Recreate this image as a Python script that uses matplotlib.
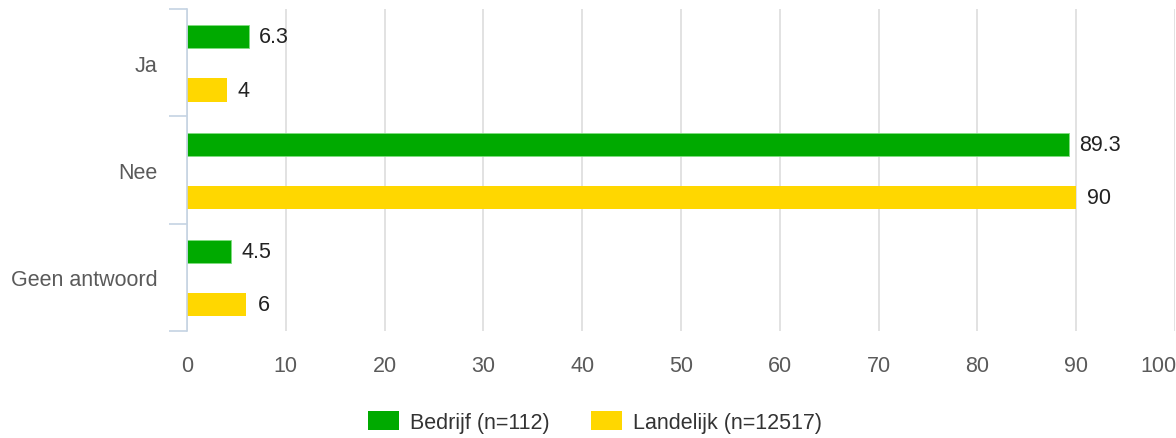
import numpy as np
import matplotlib.pyplot as plt
import matplotlib.transforms as mtransforms
from matplotlib.patches import Patch

categories = ["Ja", "Nee", "Geen antwoord"]
bedrijf = [6.3, 89.3, 4.5]
landelijk = [4, 90, 6]
bedrijf_labels = ["6.3", "89.3", "4.5"]
landelijk_labels = ["4", "90", "6"]
series_names = ["Bedrijf (n=112)", "Landelijk (n=12517)"]
xticks = [0, 10, 20, 30, 40, 50, 60, 70, 80, 90, 100]

green = "#00AA00"
yellow = "#FFD700"
fs = 15.5

plt.rcParams['font.family'] = ['Liberation Sans', 'DejaVu Sans']

fig = plt.figure(figsize=(11.76, 4.39), dpi=100)
ax = fig.add_axes([187 / 1176, 107 / 439, 988 / 1176, 322 / 439])

y = np.arange(len(categories))
h = 0.215
ax.barh(y - 0.24, bedrijf, height=h, color=green, edgecolor="#7fdd7f", linewidth=0.6, zorder=3)
ax.barh(y + 0.255, landelijk, height=h, color=yellow, zorder=3)

for yi, v, lab in zip(y, bedrijf, bedrijf_labels):
    ax.annotate(lab, (v, yi - 0.24), xytext=(7, 0), textcoords="offset points",
                va="center", ha="left", fontsize=fs, color="#222222")
for yi, v, lab in zip(y, landelijk, landelijk_labels):
    ax.annotate(lab, (v, yi + 0.255), xytext=(8, 0), textcoords="offset points",
                va="center", ha="left", fontsize=fs, color="#222222")

ax.set_xlim(0, 100)
ax.set_ylim(2.5, -0.5)
ax.set_xticks(xticks)
ax.set_xticklabels([str(t) for t in xticks], fontsize=fs, color="#5a5a5a")
ax.tick_params(axis="x", length=0, pad=17)
# last label pulled inward so it stays inside the figure
last = ax.get_xticklabels()[-1]
last.set_transform(last.get_transform() + mtransforms.ScaledTranslation(-0.17, 0, fig.dpi_scale_trans))

ax.set_yticks(y)
ax.set_yticklabels(categories, fontsize=fs, color="#5a5a5a")
ax.tick_params(axis="y", which="major", length=0, pad=21)
ax.set_yticks([-0.5, 0.5, 1.5, 2.5], minor=True)
ax.tick_params(axis="y", which="minor", length=13, width=1.2, color="#c5d3e3")

ax.grid(axis="x", color="#dddddd", linewidth=1.2, zorder=0)
ax.set_axisbelow(True)
for s in ["top", "right", "bottom"]:
    ax.spines[s].set_visible(False)
ax.spines["left"].set_color("#c5d3e3")
ax.spines["left"].set_linewidth(1.2)
ax.spines["left"].set_zorder(4)

handles = [Patch(facecolor=green), Patch(facecolor=yellow)]
fig.legend(handles, series_names, loc="center", bbox_to_anchor=(595 / 1176, 1 - 423 / 439),
           ncol=2, frameon=False, fontsize=fs, handlelength=1.45, handleheight=1.0,
           columnspacing=1.9, handletextpad=0.5, labelcolor="#333333")

fig.savefig("out.png", dpi=100)
